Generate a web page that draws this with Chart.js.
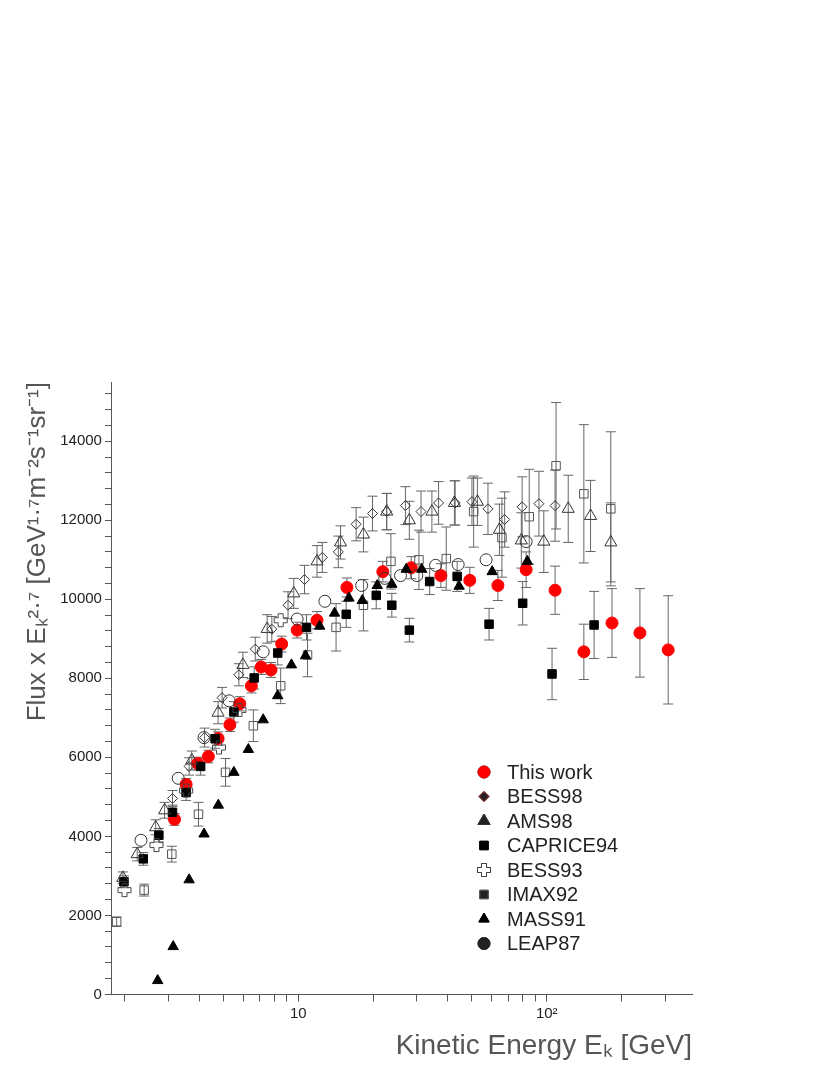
<!DOCTYPE html>
<html>
<head>
<meta charset="utf-8">
<script src="https://cdn.jsdelivr.net/npm/chart.js@4/dist/chart.umd.min.js"></script>
<style>
  html, body { margin: 0; padding: 0; background: #fff; }
  #wrap { width: 830px; height: 1075px; }
</style>
</head>
<body>
<div id="wrap"><canvas id="c" width="830" height="1075"></canvas></div>
<script>
// energies (GeV), flux x E^2.7, error
const thisE = [3.18, 3.54, 3.94, 4.35, 4.76, 5.31, 5.82, 6.48, 7.10, 7.77, 8.58, 9.9, 11.9, 15.7, 21.9, 28.5, 37.5, 49, 63.6, 82.6, 108, 141, 183, 237, 308];
const thisF = [4430, 5315, 5844, 6020, 6474, 6826, 7355, 7809, 8287, 8212, 8867, 9220, 9470, 10300, 10700, 10800, 10600, 10480, 10350, 10750, 10230, 8670, 9400, 9150, 8720];
const thisErr = [150, 150, 160, 160, 170, 170, 180, 180, 190, 190, 200, 200, 220, 240, 260, 280, 300, 330, 380, 450, 610, 700, 870, 1120, 1370];

const bess98E = [3.12, 3.64, 4.2, 4.94, 5.77, 6.72, 7.83, 9.1, 10.6, 12.5, 14.5, 17.1, 19.9, 22.7, 27.0, 31.2, 36.7, 42.8, 50, 58, 67.7, 79.6, 93, 108];
const bess98F = [4960, 5770, 6500, 7510, 8090, 8740, 9245, 9850, 10500, 11060, 11200, 11900, 12170, 12220, 12370, 12220, 12440, 12440, 12470, 12290, 12020, 12340, 12420, 12370];
const bess98Err = [200, 220, 240, 260, 280, 300, 320, 340, 360, 380, 400, 420, 440, 460, 480, 520, 540, 560, 600, 650, 700, 760, 820, 900];

const ams98E = [1.97, 2.25, 2.67, 2.9, 3.73, 4.76, 5.99, 7.5, 9.6, 11.9, 14.8, 18.3, 22.7, 28, 34.5, 42.5, 52.6, 64.5, 79, 97.3, 122, 150, 181];
const ams98F = [2950, 3550, 4230, 4660, 5920, 7130, 8340, 9250, 10150, 10960, 11440, 11640, 12220, 12000, 12220, 12440, 12470, 11760, 11490, 11460, 12290, 12110, 11440];
const ams98Err = [150, 170, 190, 200, 240, 280, 320, 360, 380, 400, 420, 440, 460, 480, 520, 560, 600, 650, 700, 780, 850, 900, 1000];

const capE = [1.99, 2.38, 2.75, 3.12, 3.54, 4.05, 4.63, 5.51, 6.65, 8.27, 10.8, 15.6, 20.6, 23.8, 28, 33.8, 43.6, 58.6, 80, 105, 155];
const capF = [2850, 3430, 4030, 4610, 5110, 5770, 6470, 7150, 8010, 8640, 9290, 9620, 10100, 9850, 9220, 10450, 10580, 9370, 9900, 8110, 9350];
const capErr = [150, 160, 170, 180, 200, 220, 240, 260, 280, 300, 320, 330, 340, 300, 300, 330, 380, 400, 550, 650, 850];

const bess93E = [2.0, 2.69, 3.54, 4.8, 5.8, 8.5];
const bess93F = [2640, 3780, 5160, 6250, 7200, 9470];

const imaxE = [1.86, 2.4, 3.1, 3.97, 5.1, 6.6, 8.5, 10.9, 14.2, 18.3, 23.6, 30.6, 39.4, 50.8, 66, 85, 109, 141, 181];
const imaxF = [1840, 2640, 3550, 4560, 5620, 6800, 7810, 8590, 9290, 9850, 10960, 11000, 11030, 12220, 11560, 12090, 13380, 12670, 12290];
const imaxErr = [120, 150, 200, 300, 350, 400, 450, 550, 600, 650, 700, 750, 800, 900, 1000, 1200, 1600, 1750, 1950];

const massE = [2.72, 3.14, 3.64, 4.18, 4.77, 5.51, 6.3, 7.23, 8.27, 9.39, 10.7, 12.2, 14, 16, 18.1, 20.8, 23.8, 27.2, 31.4, 44.4, 60.3, 83.5];
const massF = [350, 1210, 2900, 4060, 4790, 5620, 6200, 6950, 7560, 8340, 8570, 9320, 9650, 10030, 9970, 10350, 10380, 10760, 10760, 10330, 10700, 10960];

const leapE = [2.33, 3.29, 4.18, 5.27, 7.23, 9.9, 12.8, 18, 22.3, 25.8, 30, 35.7, 44, 57, 82.6];
const leapF = [3900, 5470, 6500, 7430, 8670, 9500, 9950, 10350, 10530, 10600, 10600, 10860, 10880, 11000, 11460];

const xTicks = [2, 3, 4, 5, 6, 7, 8, 9, 10, 20, 30, 40, 50, 60, 70, 80, 90, 100, 200, 300];
const legendNames = ["This work", "BESS98", "AMS98", "CAPRICE94", "BESS93", "IMAX92", "MASS91", "LEAP87"];

function pts(xs, ys, errs) {
  return xs.map((x, i) => ({ x: x, y: ys[i], e: errs ? errs[i] : 0 }));
}

// open greek-cross marker
const crossImg = document.createElement("canvas");
crossImg.width = 16; crossImg.height = 16;
(function () {
  const g = crossImg.getContext("2d");
  g.strokeStyle = "#444"; g.lineWidth = 1;
  g.beginPath();
  g.moveTo(5.5, 1.5); g.lineTo(10.5, 1.5); g.lineTo(10.5, 5.5); g.lineTo(14.5, 5.5);
  g.lineTo(14.5, 10.5); g.lineTo(10.5, 10.5); g.lineTo(10.5, 14.5); g.lineTo(5.5, 14.5);
  g.lineTo(5.5, 10.5); g.lineTo(1.5, 10.5); g.lineTo(1.5, 5.5); g.lineTo(5.5, 5.5);
  g.closePath(); g.stroke();
})();

function ds(label, data, style, radius, fill, stroke) {
  return {
    label: label, data: data, pointStyle: style, pointRadius: radius,
    backgroundColor: fill, borderColor: stroke, borderWidth: 1, showLine: false
  };
}

const datasets = [
  ds("MASS91", pts(massE, massF), "triangle", 6, "#000", "#000"),
  ds("IMAX92", pts(imaxE, imaxF, imaxErr), "rect", 6, "rgba(0,0,0,0)", "#555"),
  ds("BESS93", pts(bess93E, bess93F), crossImg, 8, "#fff", "#444"),
  ds("LEAP87", pts(leapE, leapF), "circle", 6, "rgba(0,0,0,0)", "#333"),
  ds("AMS98", pts(ams98E, ams98F, ams98Err), "triangle", 7, "rgba(0,0,0,0)", "#333"),
  ds("BESS98", pts(bess98E, bess98F, bess98Err), "rectRot", 5, "rgba(0,0,0,0)", "#333"),
  ds("CAPRICE94", pts(capE, capF, capErr), "rect", 6, "#000", "#000"),
  ds("This work", pts(thisE, thisF, thisErr), "circle", 6, "#f00", "#f00")
];

const errorBars = {
  id: "errorBars",
  beforeDatasetsDraw(chart) {
    const ctx = chart.ctx, xs = chart.scales.x, ys = chart.scales.y;
    ctx.save();
    ctx.strokeStyle = "#666"; ctx.lineWidth = 1;
    chart.data.datasets.forEach(d => {
      d.data.forEach(p => {
        if (!p.e) return;
        const x = xs.getPixelForValue(p.x);
        const y1 = ys.getPixelForValue(p.y - p.e), y2 = ys.getPixelForValue(p.y + p.e);
        ctx.beginPath();
        ctx.moveTo(x, y1); ctx.lineTo(x, y2);
        ctx.moveTo(x - 5, y1); ctx.lineTo(x + 5, y1);
        ctx.moveTo(x - 5, y2); ctx.lineTo(x + 5, y2);
        ctx.stroke();
      });
    });
    ctx.restore();
  }
};

const insideLegend = {
  id: "insideLegend",
  afterDraw(chart) {
    const ctx = chart.ctx;
    ctx.save();
    ctx.font = "20px 'Liberation Sans', sans-serif";
    ctx.fillStyle = "#222";
    ctx.textBaseline = "middle";
    legendNames.forEach((name, i) => {
      const d = chart.data.datasets.find(s => s.label === name);
      const y = 772 + i * 24.5;
      Chart.helpers.drawPoint(ctx, {
        pointStyle: d.pointStyle, radius: d.pointRadius, borderWidth: 1
      }, 484, y);
      ctx.fillStyle = d.backgroundColor; ctx.strokeStyle = d.borderColor;
      ctx.beginPath();
      ctx.restore(); ctx.save();
      ctx.fillStyle = d.backgroundColor; ctx.strokeStyle = d.borderColor; ctx.lineWidth = 1;
      Chart.helpers.drawPoint(ctx, { pointStyle: d.pointStyle, radius: d.pointRadius, borderWidth: 1 }, 484, y);
      ctx.font = "20px 'Liberation Sans', sans-serif";
      ctx.fillStyle = "#222"; ctx.textBaseline = "middle";
      ctx.fillText(name, 507, y + 1);
    });
    ctx.restore();
  }
};

new Chart(document.getElementById("c"), {
  type: "scatter",
  data: { datasets: datasets },
  plugins: [errorBars, insideLegend],
  options: {
    responsive: false,
    animation: false,
    layout: { padding: { top: 382, right: 138, bottom: 8, left: 18 } },
    plugins: { legend: { display: false }, tooltip: { enabled: false } },
    scales: {
      x: {
        type: "logarithmic", min: 1.78, max: 384,
        afterBuildTicks: axis => { axis.ticks = xTicks.map(v => ({ value: v })); },
        ticks: {
          autoSkip: false, maxRotation: 0, color: "#222",
          font: { family: "'Liberation Sans', sans-serif", size: 15 },
          callback: v => v === 10 ? "10" : (v === 100 ? "10²" : "")
        },
        grid: { drawOnChartArea: false, color: "#555", tickLength: 7 },
        border: { color: "#555" },
        title: {
          display: true, align: "end", color: "#555",
          text: "Kinetic Energy Eₖ [GeV]",
          font: { family: "'Liberation Sans', sans-serif", size: 28 }
        }
      },
      y: {
        min: 0, max: 15500,
        afterBuildTicks: axis => {
          const t = [];
          for (let v = 0; v <= 15200; v += 400) t.push({ value: v });
          axis.ticks = t;
        },
        ticks: {
          autoSkip: false, color: "#222",
          font: { family: "'Liberation Sans', sans-serif", size: 15 },
          callback: v => v % 2000 === 0 && v <= 14000 ? String(v) : ""
        },
        grid: { drawOnChartArea: false, color: "#555", tickLength: 7 },
        border: { color: "#555" },
        title: {
          display: true, align: "end", color: "#555",
          text: "Flux x Eₖ²·⁷ [GeV¹·⁷m⁻²s⁻¹sr⁻¹]",
          font: { family: "'Liberation Sans', sans-serif", size: 26 }
        }
      }
    }
  }
});
</script>
</body>
</html>
